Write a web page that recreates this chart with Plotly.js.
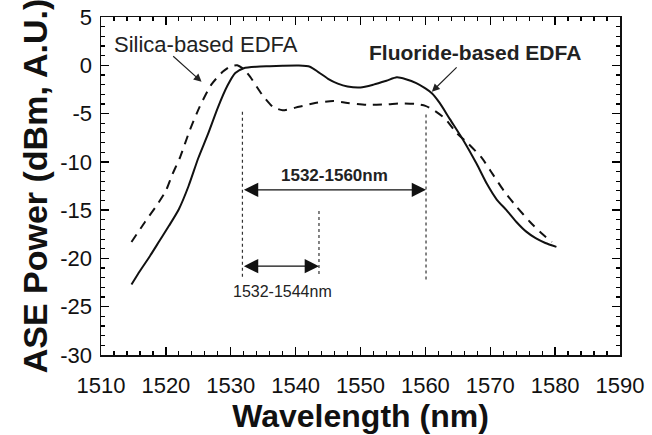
<!DOCTYPE html>
<html>
<head>
<meta charset="utf-8">
<script src="https://cdn.plot.ly/plotly-3.0.1.min.js"></script>
<style>html,body{margin:0;padding:0;background:#fff;}#chart{width:652px;height:435px;}</style>
</head>
<body>
<div id="chart"></div>
<script>
// Fluoride-based EDFA (solid)
const fluorideWl = [1514.7, 1516, 1517.5, 1519, 1520.5, 1522, 1523.5, 1525, 1526.5, 1528, 1529.5, 1530.7, 1532, 1534, 1536, 1538, 1540.5, 1542.2, 1543.5, 1545, 1546.5, 1548, 1550, 1552, 1554, 1555.6, 1557, 1558.6, 1560, 1561, 1562.2, 1563.8, 1565.8, 1567.9, 1569.5, 1571, 1572.5, 1574, 1575.5, 1577, 1578.5, 1580.2];
const fluoridePw = [-22.7, -21.3, -19.8, -18.2, -16.6, -14.9, -12.5, -9.6, -7.1, -4.4, -2.1, -0.8, -0.3, -0.15, -0.1, -0.05, -0.03, -0.15, -0.7, -1.4, -1.9, -2.2, -2.3, -2.0, -1.6, -1.25, -1.45, -1.85, -2.4, -2.9, -3.9, -5.6, -7.7, -10.2, -12.3, -13.9, -15.0, -16.2, -17.2, -17.9, -18.4, -18.8];
// Silica-based EDFA (dashed)
const silicaWl = [1514.7, 1516.8, 1518.6, 1520.0, 1521.0, 1522.2, 1523.7, 1525.2, 1527.0, 1528.8, 1530.0, 1531.0, 1532.0, 1533.0, 1534.8, 1536.5, 1538.0, 1540.5, 1543, 1545.8, 1548, 1551, 1554, 1556.1, 1558.5, 1560.0, 1561.2, 1563.0, 1564.8, 1566.6, 1568.7, 1570.4, 1572.2, 1574.0, 1576.1, 1577.9, 1579.5];
const silicaPw = [-18.3, -16.2, -14.5, -13.0, -11.3, -9.5, -6.7, -4.3, -2.0, -0.65, -0.1, 0.0, -0.4, -1.2, -3.0, -4.3, -4.65, -4.3, -3.9, -3.7, -3.9, -4.1, -4.05, -3.95, -4.0, -4.2, -4.6, -5.5, -7.0, -8.1, -9.6, -11.3, -13.1, -14.6, -16.2, -17.4, -18.3];

// Ticks
const xTickVals = [1510, 1520, 1530, 1540, 1550, 1560, 1570, 1580, 1590];
const xTickText = ['1510', '1520', '1530', '1540', '1550', '1560', '1570', '1580', '1590'];
const yTickVals = [-30, -25, -20, -15, -10, -5, 0, 5];
const yTickText = ['-30', '-25', '-20', '-15', '-10', '-5', '0', '5'];
const xRange = [1510, 1590];
const yRange = [-30, 5];

// Band guide lines (dotted verticals)
const guideX = [1531.8, 1560.1, 1543.6];
const guideTop = [-4.8, -5.1, -15.1];
const guideBottom = [-21.9, -22.2, -21.7];

// Band arrows
const bandLabels = ['1532-1560nm', '1532-1544nm'];
const bandStart = [1531.8, 1531.8];
const bandEnd = [1560.1, 1543.6];
const bandY = [-12.9, -20.8];
const bandLabelX = [1546.0, 1538.0];
const bandLabelY = [-11.45, -23.4];

// Curve labels
const curveLabels = ['Silica-based EDFA', 'Fluoride-based EDFA'];
const curveLabelX = [1526.2, 1567.6];
const curveLabelY = [2.15, 1.33];
const pointerTailX = [1520.9, 1565.05];
const pointerTailY = [1.07, -0.07];
const pointerHeadX = [1525.5, 1561.0];
const pointerHeadY = [-1.7, -2.73];

const FONT = '"Liberation Sans", Arial, Helvetica, sans-serif';

const traces = [
  {x: fluorideWl, y: fluoridePw, type: 'scatter', mode: 'lines', name: 'Fluoride-based EDFA',
   xaxis: 'x', yaxis: 'y',
   line: {color: '#111', width: 2, shape: 'spline', smoothing: 0.6}},
  {x: silicaWl, y: silicaPw, type: 'scatter', mode: 'lines', name: 'Silica-based EDFA',
   xaxis: 'x2', yaxis: 'y2',
   line: {color: '#111', width: 2, dash: '9px,7px', shape: 'spline', smoothing: 0.6}}
];

const shapes = guideX.map((gx, i) => ({
  type: 'line', xref: 'x', yref: 'y', x0: gx, x1: gx, y0: guideTop[i], y1: guideBottom[i],
  line: {color: '#333', width: 1.2, dash: 'dot'}
}));

const annotations = [];
bandLabels.forEach((t, i) => {
  annotations.push({x: bandEnd[i], y: bandY[i], ax: bandStart[i], ay: bandY[i], xref: 'x', yref: 'y', axref: 'x', ayref: 'y',
    text: '', showarrow: true, arrowhead: 2, arrowside: 'end+start', arrowsize: 2.2, arrowwidth: 1.3, arrowcolor: '#111', standoff: 0, startstandoff: 0});
  annotations.push({x: bandLabelX[i], y: bandLabelY[i], xref: 'x', yref: 'y', text: t, showarrow: false,
    font: {family: FONT, size: i === 0 ? 17 : 16, color: '#222', weight: i === 0 ? 'bold' : 'normal'}});
});
curveLabels.forEach((t, i) => {
  annotations.push({x: curveLabelX[i], y: curveLabelY[i], xref: 'x', yref: 'y', text: i === 1 ? '<b>' + t + '</b>' : t, showarrow: false,
    font: {family: FONT, size: i === 1 ? 21 : 22, color: '#222'}});
  annotations.push({x: pointerHeadX[i], y: pointerHeadY[i], ax: pointerTailX[i], ay: pointerTailY[i], xref: 'x', yref: 'y', axref: 'x', ayref: 'y',
    text: '', showarrow: true, arrowhead: 2, arrowsize: 1.3, arrowwidth: 1.2, arrowcolor: '#222', standoff: 0});
});

// Frame axes: inside ticks (major + minor) mirrored, no labels
const frameAxis = {
  showgrid: false, zeroline: false, showline: true, linecolor: '#111', linewidth: 1.5,
  mirror: 'allticks', ticks: 'inside', tickcolor: '#000', tickwidth: 1.4, ticklen: 8,
  showticklabels: false
};
// Label axes: overlaid, carry tick labels and titles
const labelAxis = {
  showgrid: false, zeroline: false, showline: false, ticks: '',
  tickfont: {family: FONT, size: 22, color: '#111'}
};

const layout = {
  width: 652, height: 435,
  margin: {l: 101, r: 32, t: 17, b: 80},
  paper_bgcolor: '#fff', plot_bgcolor: '#fff',
  showlegend: false,
  xaxis: Object.assign({}, frameAxis, {
    range: xRange, tickmode: 'array', tickvals: xTickVals,
    minor: {dtick: 2, ticks: 'inside', ticklen: 4, tickcolor: '#000', tickwidth: 1.2}
  }),
  yaxis: Object.assign({}, frameAxis, {
    range: yRange, tickmode: 'array', tickvals: yTickVals,
    minor: {dtick: 1, ticks: 'inside', ticklen: 4, tickcolor: '#000', tickwidth: 1.2}
  }),
  xaxis2: Object.assign({}, labelAxis, {
    overlaying: 'x', anchor: 'y2', matches: 'x', range: xRange,
    tickmode: 'array', tickvals: xTickVals, ticktext: xTickText,
    ticklabelstandoff: 15,
    title: {text: '<b>Wavelength (nm)</b>', font: {family: FONT, size: 32, color: '#111'}, standoff: 6}
  }),
  yaxis2: Object.assign({}, labelAxis, {
    overlaying: 'y', anchor: 'x2', matches: 'y', range: yRange,
    tickmode: 'array', tickvals: yTickVals, ticktext: yTickText,
    ticklabelstandoff: 8,
    title: {text: '<b>ASE Power (dBm, A.U.)</b>', font: {family: FONT, size: 34, color: '#111'}, standoff: 2}
  }),
  shapes: shapes,
  annotations: annotations
};

Plotly.newPlot('chart', traces, layout, {staticPlot: true, displayModeBar: false});
</script>
</body>
</html>
